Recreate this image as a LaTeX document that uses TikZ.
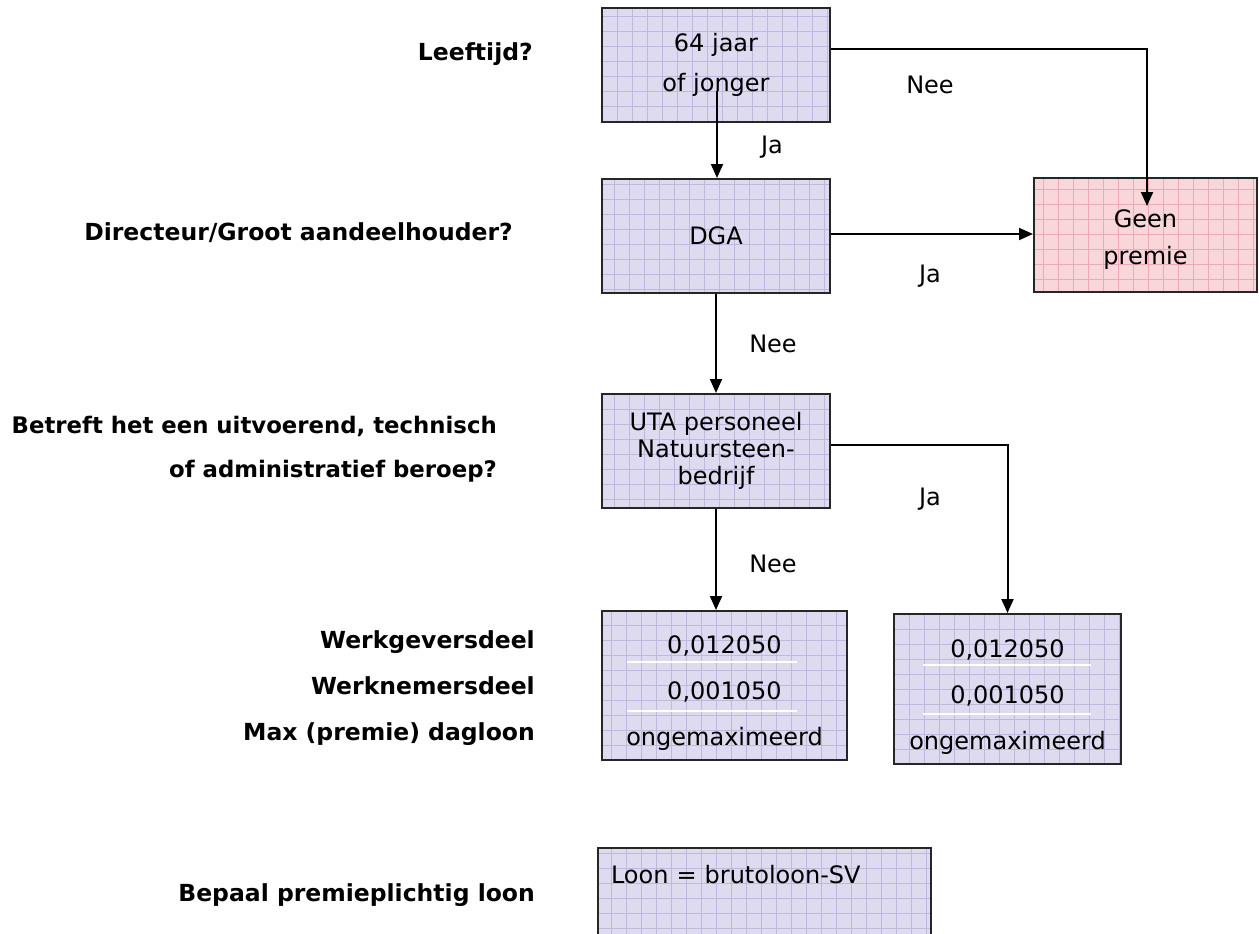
\documentclass[tikz,border=0pt]{standalone}
\usepackage{fontspec}
\setmainfont{DejaVu Sans}
\usetikzlibrary{calc,arrows.meta}
\definecolor{lav}{RGB}{222,219,240}
\definecolor{lavgrid}{RGB}{190,183,222}
\definecolor{pinkf}{RGB}{248,214,218}
\definecolor{pinkgrid}{RGB}{236,170,180}
\tikzset{
  box/.style={draw=black!85, line width=2pt, fill=lav, inner sep=0pt, align=center,
    font=\fontsize{24}{27}\selectfont,
    path picture={\draw[lavgrid, line width=0.7pt, step=15pt]
      (path picture bounding box.south west) grid (path picture bounding box.north east);}},
  redbox/.style={box, fill=pinkf,
    path picture={\draw[pinkgrid, line width=0.7pt, step=15pt]
      (path picture bounding box.south west) grid (path picture bounding box.north east);}},
  lbl/.style={font=\fontsize{23.5}{29}\selectfont\bfseries, anchor=base east, inner sep=0pt},
  elbl/.style={font=\fontsize{24}{29}\selectfont, anchor=base, inner sep=0pt},
  conn/.style={line width=2pt, -{Triangle[length=14pt,width=12pt]}},
  sep/.style={white, line width=1.2pt}
}
\begin{document}
\begin{tikzpicture}[x=1pt,y=-1pt]
\useasboundingbox (0,0) rectangle (1259,934);
\clip (0,0) rectangle (1259,934);
% boxes
\node[box, minimum width=228pt, minimum height=114pt, font=\fontsize{24}{40}\selectfont] (b1) at (716,65) {64 jaar\\of jonger};
\node[box, minimum width=228pt, minimum height=114pt] (b2) at (716,236) {DGA};
\node[redbox, minimum width=223pt, minimum height=114pt, font=\fontsize{24}{37}\selectfont] (geen) at (1145.5,235) {\rule{0pt}{26pt}Geen\\premie};
\node[box, minimum width=228pt, minimum height=114pt, font=\fontsize{24}{27}\selectfont] (uta) at (716,451) {UTA personeel\\Natuursteen-\\bedrijf};
\node[box, minimum width=245pt, minimum height=149pt, font=\fontsize{24}{46}\selectfont] (b4) at (724.5,685.5) {\rule{0pt}{33pt}0,012050\\0,001050\\ongemaximeerd};
\node[box, minimum width=227pt, minimum height=150pt, font=\fontsize{24}{46}\selectfont] (b5) at (1007.5,689) {\rule{0pt}{33pt}0,012050\\0,001050\\ongemaximeerd};
\node[box, anchor=north west, inner xsep=13pt, inner ysep=0pt, text width=307pt, text height=35pt, text depth=110pt, align=left] (loon) at (597,847) {Loon = brutoloon-SV};
% white separator lines
\draw[sep] ($(b4.north west)+(26,52)$) -- ($(b4.north west)+(196,52)$);
\draw[sep] ($(b4.north west)+(26,101)$) -- ($(b4.north west)+(196,101)$);
\draw[sep] ($(b5.north west)+(30,52)$) -- ($(b5.north west)+(198,52)$);
\draw[sep] ($(b5.north west)+(30,101)$) -- ($(b5.north west)+(198,101)$);
% left questions
\node[lbl] (q1) at (533,61) {Leeftijd?};
\node[lbl] (q2) at (513,240) {Directeur/Groot aandeelhouder?};
\node[lbl, font=\fontsize{22.8}{29}\selectfont\bfseries] (q3a) at (497,433) {Betreft het een uitvoerend, technisch};
\node[lbl, font=\fontsize{22.8}{29}\selectfont\bfseries] (q3b) at (497,477) {of administratief beroep?};
\node[lbl] (q4a) at (535,648) {Werkgeversdeel};
\node[lbl] (q4b) at (535,694) {Werknemersdeel};
\node[lbl] (q4c) at (535,740) {Max (premie) dagloon};
\node[lbl] (q5) at (535,901) {Bepaal premieplichtig loon};
% connectors
\coordinate (s1) at ($(b1.south)+(1,-32)$);
\draw[conn] (s1) -- (s1 |- b2.north);
\coordinate (s2) at ($(b1.north east)+(0,42)$);
\coordinate (t2) at ($(geen.north west)+(114,29)$);
\draw[conn] (s2) -| (t2);
\draw[conn] ($(b2.east)+(0,-2)$) -- ($(geen.west)+(0,-1)$);
\draw[conn] (b2.south) -- (uta.north);
\draw[conn] ($(uta.east)+(0,-6)$) -| (b5.north);
\draw[conn] (uta.south) -- (uta.south |- b4.north);
% edge labels
\node[elbl] (nee1) at (930,93) {Nee};
\node[elbl] (ja1) at (772,153) {Ja};
\node[elbl] (ja2) at (930,282) {Ja};
\node[elbl] (nee2) at (773,352) {Nee};
\node[elbl] (ja3) at (930,505) {Ja};
\node[elbl] (nee3) at (773,572) {Nee};
\end{tikzpicture}
\end{document}
